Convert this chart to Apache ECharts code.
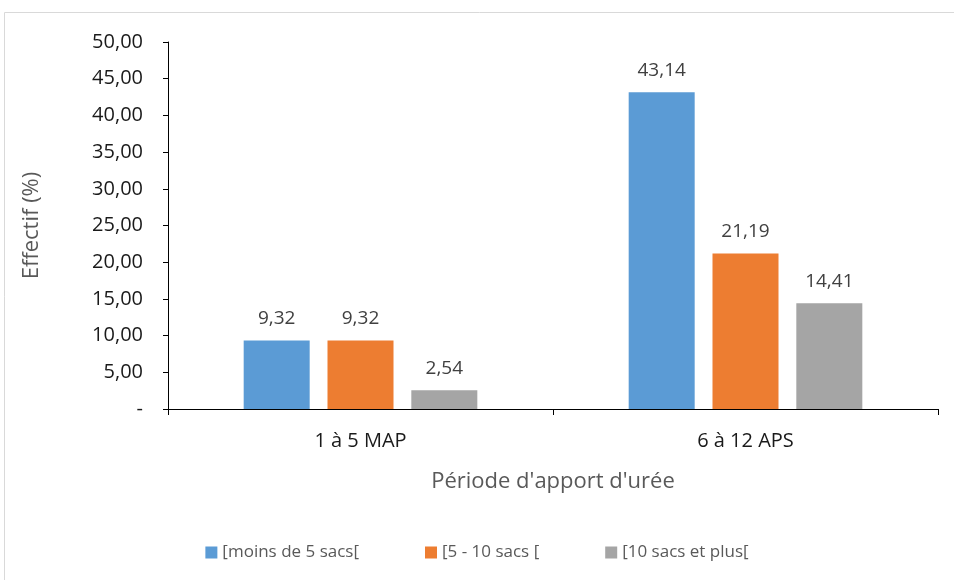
<!DOCTYPE html>
<html><head><meta charset="utf-8">
<script src="https://cdn.jsdelivr.net/npm/echarts@6/dist/echarts.min.js"></script>
<style>html,body{margin:0;padding:0;background:#fff}#c{width:954px;height:580px}</style>
</head><body><div id="c"></div>
<script>
const categories = ['1 à 5 MAP', '6 à 12 APS'];
const seriesNames = ['[moins de 5 sacs[', '[5 - 10 sacs [', '[10 sacs et plus['];
const blueValues = [9.32, 43.14];
const orangeValues = [9.32, 21.19];
const grayValues = [2.54, 14.41];
const colors = ['#5B9BD5', '#ED7D31', '#A5A5A5'];
const fmt = v => v === 0 ? '-' : v.toFixed(2).replace('.', ',');
const font = '"Open Sans", "Noto Sans", sans-serif';
const chart = echarts.init(document.getElementById('c'));
const mk = (name, data, color) => ({
  name, type: 'bar', data, barWidth: 66, barGap: '27%',
  itemStyle: { color },
  label: { show: true, position: 'top', distance: 12, color: '#404040', fontSize: 19, fontFamily: font,
    formatter: p => fmt(p.value) }
});
chart.setOption({
  animation: false,
  graphic: [{ type: 'rect', shape: { x: 4.5, y: 12.5, width: 960, height: 580 }, style: { fill: 'none', stroke: '#d9d9d9', lineWidth: 1 } }],
  grid: { left: 168, right: 16, top: 42, bottom: 171 },
  xAxis: {
    type: 'category', data: categories,
    name: "Période d'apport d'urée", nameLocation: 'middle', nameGap: 62,
    nameTextStyle: { color: '#595959', fontSize: 22, fontFamily: font },
    axisLine: { lineStyle: { color: '#000', width: 1 } },
    axisTick: { show: true, length: 6, lineStyle: { color: '#000' } },
    axisLabel: { color: '#1a1a1a', fontSize: 20, fontFamily: font, margin: 22 }
  },
  yAxis: {
    type: 'value', min: 0, max: 50, interval: 5,
    name: 'Effectif (%)', nameLocation: 'middle', nameGap: 125, nameRotate: 90,
    nameTextStyle: { color: '#595959', fontSize: 22, fontFamily: font },
    axisLine: { show: true, lineStyle: { color: '#000', width: 1 } },
    axisTick: { show: true, length: 5, lineStyle: { color: '#000' } },
    splitLine: { show: false },
    axisLabel: { color: '#1a1a1a', fontSize: 20, fontFamily: font, margin: 25, formatter: fmt }
  },
  legend: {
    bottom: 14, left: 'center', itemWidth: 12, itemHeight: 12, itemGap: 66,
    icon: 'rect', data: seriesNames,
    textStyle: { color: '#595959', fontSize: 17, fontFamily: font }
  },
  series: [mk(seriesNames[0], blueValues, colors[0]), mk(seriesNames[1], orangeValues, colors[1]), mk(seriesNames[2], grayValues, colors[2])]
});
</script></body></html>
